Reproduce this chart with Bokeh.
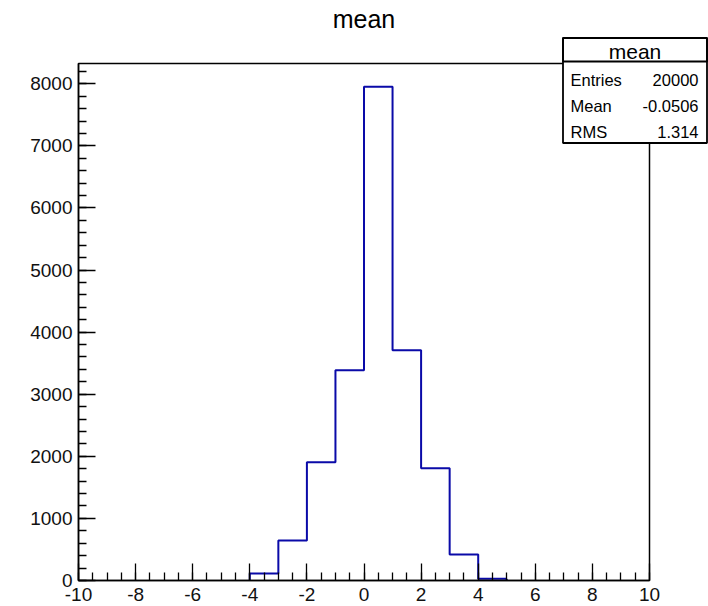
from bokeh.plotting import figure
from bokeh.models import (Range1d, SingleIntervalTicker, Label, BoxAnnotation,
                          LinearAxis, PrintfTickFormatter)
from bokeh.embed import file_html
from bokeh.resources import INLINE

# ---- data ----
bin_edges = [float(e) for e in range(-10, 11)]
counts = [0, 0, 0, 0, 0, 0,
          113, 645, 1903, 3387, 7952, 3710, 1806, 420, 27,
          0, 0, 0, 0, 0]
title_text = "mean"
stat_names = ["Entries", "Mean", "RMS"]
stat_values = ["20000", "-0.0506", "1.314"]
x_ticks_interval = 2
y_ticks_interval = 1000

# ---- layout constants (pixels) ----
W, H = 708, 606
FL, FR, FT, FB = 78, 649, 63, 580
xmin, xmax = -10.0, 10.0
ymin, ymax = 0.0, 7930 * 1.05

def dx(px):
    return xmin + (px - FL) * (xmax - xmin) / (FR - FL)

def dy(py):
    return ymin + (FB - py) * (ymax - ymin) / (FB - FT)

FONT = "Liberation Sans"

# the frame spans the whole canvas; the "ROOT frame" is drawn inside it
p = figure(width=W, height=H, output_backend="svg", toolbar_location=None,
           x_range=Range1d(dx(0), dx(W)), y_range=Range1d(dy(H), dy(0)),
           x_axis_type=None, y_axis_type=None, title=None,
           min_border_left=0, min_border_right=0,
           min_border_top=0, min_border_bottom=0)
p.background_fill_color = "white"
p.border_fill_color = "white"
p.outline_line_color = None
p.xgrid.visible = False
p.ygrid.visible = False

# histogram outline (only over the span of non-empty bins; empty bins lie on the axis)
nz = [i for i, c in enumerate(counts) if c > 0]
i0, i1 = nz[0], nz[-1]
step_x = bin_edges[i0:i1 + 2]
step_y = counts[i0:i1 + 1] + [counts[i1]]
p.step(x=[step_x[0]] + step_x, y=[0] + step_y, mode="after",
       line_color="#0a0aa8", line_width=2)
p.segment(x0=[step_x[-1]], y0=[counts[i1]], x1=[step_x[-1]], y1=[0],
          line_color="#0a0aa8", line_width=2)

xaxis = LinearAxis(fixed_location=ymin, bounds=(xmin, xmax),
                   ticker=SingleIntervalTicker(interval=x_ticks_interval, num_minor_ticks=4),
                   formatter=PrintfTickFormatter(format="%d"))
yaxis = LinearAxis(fixed_location=xmin, bounds=(ymin, ymax),
                   ticker=SingleIntervalTicker(interval=y_ticks_interval, num_minor_ticks=5),
                   formatter=PrintfTickFormatter(format="%d"))
for ax in (xaxis, yaxis):
    ax.major_tick_in = 17
    ax.major_tick_out = 0
    ax.minor_tick_in = 8
    ax.minor_tick_out = 0
    ax.axis_line_color = "black"
    ax.axis_line_width = 1.5
    ax.major_tick_line_color = "black"
    ax.minor_tick_line_color = "black"
    ax.major_tick_line_width = 1.3
    ax.minor_tick_line_width = 1.3
    ax.major_label_text_font = FONT
    ax.major_label_text_font_size = "19px"
    ax.major_label_text_color = "#111111"
xaxis.major_label_standoff = 7
yaxis.major_label_standoff = 6
p.add_layout(xaxis, "below")
p.add_layout(yaxis, "left")

# frame border (top/right edges)
p.add_layout(BoxAnnotation(left=xmin, right=xmax, bottom=ymin, top=ymax,
                           fill_alpha=0.0, line_color="black", line_alpha=1.0,
                           line_width=1.5))

# title
p.add_layout(Label(x=(xmin + xmax) / 2, y=dy(18.0), text=title_text,
                   text_align="center", text_baseline="middle",
                   text_font=FONT, text_font_size="25px", text_color="black"))

# stats box
box_l, box_r, box_t, box_b, sep = 562.5, 706.5, 37.5, 142.5, 61.0
p.add_layout(BoxAnnotation(left=dx(box_l), right=dx(box_r), top=dy(box_t), bottom=dy(box_b),
                           fill_color="white", fill_alpha=1.0,
                           line_color="black", line_alpha=1.0, line_width=1.8, level="overlay"))
p.add_layout(BoxAnnotation(left=dx(box_l), right=dx(box_r), top=dy(box_t), bottom=dy(sep),
                           fill_alpha=0.0, line_color="black", line_alpha=1.0,
                           line_width=1.8, level="overlay"))
p.add_layout(Label(x=dx((box_l + box_r) / 2), y=dy(50.5), text=title_text,
                   text_align="center", text_baseline="middle",
                   text_font=FONT, text_font_size="21px", text_color="black", level="overlay"))
row_y = [79.3, 105.7, 131.7]
for name, val, py in zip(stat_names, stat_values, row_y):
    p.add_layout(Label(x=dx(570), y=dy(py), text=name, text_align="left",
                       text_baseline="middle", text_font=FONT, text_font_size="16.5px",
                       text_color="black", level="overlay"))
    p.add_layout(Label(x=dx(698), y=dy(py), text=val, text_align="right",
                       text_baseline="middle", text_font=FONT, text_font_size="16.5px",
                       text_color="black", level="overlay"))

open("out.html", "w").write(file_html(p, INLINE))
